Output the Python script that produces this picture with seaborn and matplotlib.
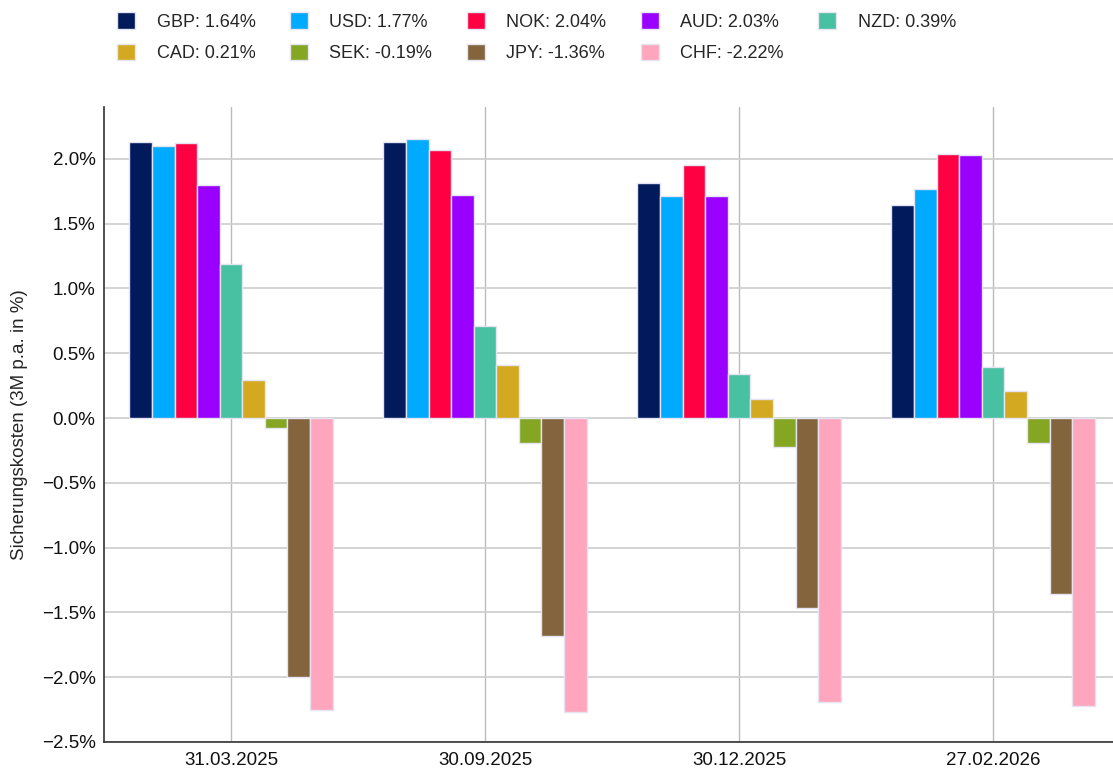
import pandas as pd
import numpy as np
import seaborn as sns
import matplotlib.pyplot as plt
from matplotlib.ticker import FuncFormatter, MultipleLocator
from matplotlib.patches import Patch

# Chart data
dates = ['31.03.2025', '30.09.2025', '30.12.2025', '27.02.2026']
currencies = ['GBP', 'USD', 'NOK', 'AUD', 'NZD', 'CAD', 'SEK', 'JPY', 'CHF']
gbp = [2.13, 2.13, 1.81, 1.64]
usd = [2.10, 2.15, 1.71, 1.77]
nok = [2.12, 2.07, 1.95, 2.04]
aud = [1.80, 1.72, 1.71, 2.03]
nzd = [1.19, 0.71, 0.34, 0.39]
cad = [0.29, 0.41, 0.15, 0.21]
sek = [-0.08, -0.19, -0.22, -0.19]
jpy = [-2.00, -1.68, -1.47, -1.36]
chf = [-2.25, -2.27, -2.19, -2.22]
colors = ['#001A5C', '#00AAFF', '#FF0042', '#9900FF', '#48C0A2',
          '#D3A922', '#84A622', '#83643C', '#FFA5BE']

series = [gbp, usd, nok, aud, nzd, cad, sek, jpy, chf]
rows = []
for cur, vals in zip(currencies, series):
    for d, v in zip(dates, vals):
        rows.append({'date': d, 'currency': cur, 'value': v})
df = pd.DataFrame(rows)

sns.set_style('white')
plt.rcParams['font.family'] = ['Liberation Sans', 'DejaVu Sans']

fig = plt.figure(figsize=(11.13, 7.72), dpi=100)
ax = fig.add_axes([0.0934, 0.0389, 0.913, 0.8225])

sns.barplot(data=df, x='date', y='value', hue='currency', order=dates,
            hue_order=currencies, palette=colors, saturation=1, width=0.8,
            edgecolor='#E4E4F2', linewidth=1, legend=False, ax=ax, zorder=3)

ax.set_xlim(-0.5, 3.5)
ax.set_ylim(-2.5, 2.4)
ax.yaxis.set_major_locator(MultipleLocator(0.5))
ax.yaxis.set_major_formatter(FuncFormatter(lambda v, p: f'{v:.1f}%'.replace('-', '\u2212')))

ax.grid(axis='y', color='#D0D0D0', linewidth=1.3, zorder=0)
ax.grid(axis='x', color='#BBBBBB', linewidth=1.0, zorder=0)
ax.set_axisbelow(True)

for s in ['top', 'right']:
    ax.spines[s].set_visible(False)
for s in ['left', 'bottom']:
    ax.spines[s].set_color('#333333')
    ax.spines[s].set_linewidth(1.2)

ax.tick_params(axis='both', length=0, labelsize=13.5, colors='#111111')
ax.tick_params(axis='y', pad=6)
ax.tick_params(axis='x', pad=7)
ax.set_xlabel('')
ax.set_ylabel('Sicherungskosten (3M p.a. in %)', fontsize=13.5, labelpad=10)

# Legend with last values, filled row by row (matplotlib fills by column)
handles = [Patch(facecolor=c, edgecolor='#E4E4F2') for c in colors]
labels = [f'{cur}: {vals[-1]:.2f}%' for cur, vals in zip(currencies, series)]
order = [0, 5, 1, 6, 2, 7, 3, 8, 4]
fig.legend([handles[i] for i in order], [labels[i] for i in order],
           loc='upper center', bbox_to_anchor=(0.482, 1.005),
           ncol=5, frameon=False, fontsize=13, handlelength=1.0,
           handleheight=1.0, handletextpad=1.2, columnspacing=1.9,
           labelspacing=0.72)

plt.savefig('out.png', dpi=100)
